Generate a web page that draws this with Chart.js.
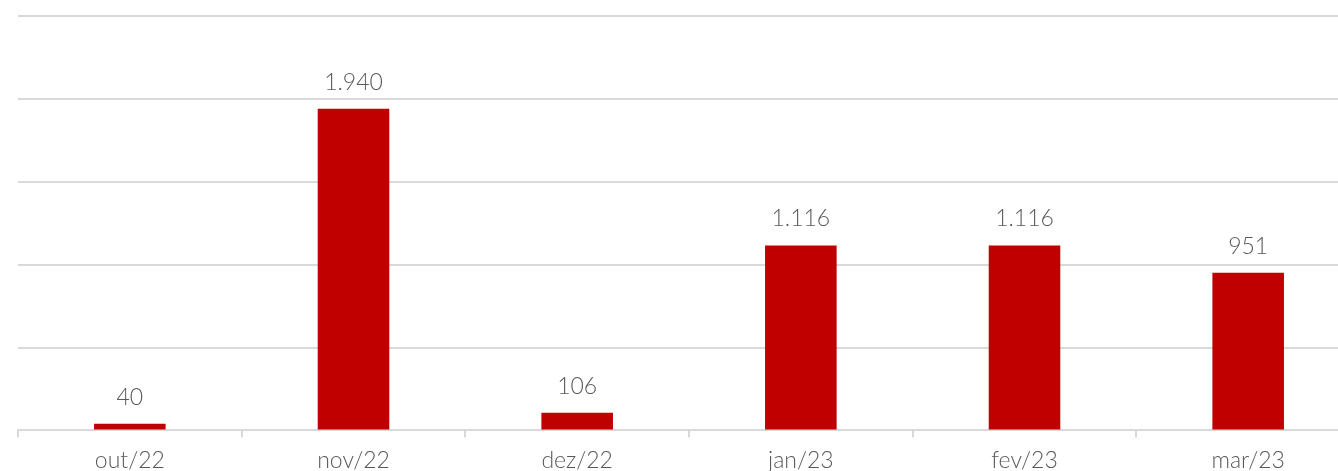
<!DOCTYPE html>
<html>
<head>
<meta charset="utf-8">
<script src="https://cdn.jsdelivr.net/npm/chart.js@4/dist/chart.umd.min.js"></script>
<style>
  html, body { margin: 0; padding: 0; overflow: hidden; background: #fff; }
  #wrap { width: 1360px; height: 490px; }
</style>
</head>
<body>
<div id="wrap"><canvas id="chart"></canvas></div>
<script>
var labels = ['out/22', 'nov/22', 'dez/22', 'jan/23', 'fev/23', 'mar/23'];
var values = [40, 1940, 106, 1116, 1116, 951];

function fmt(v) {
    return v.toString().replace(/\B(?=(\d{3})+(?!\d))/g, '.');
}

var barLabels = {
    id: 'barLabels',
    afterDatasetsDraw: function (chart) {
        var ctx = chart.ctx;
        var meta = chart.getDatasetMeta(0);
        ctx.save();
        ctx.font = '300 23px Lato';
        ctx.fillStyle = '#595959';
        ctx.textAlign = 'center';
        ctx.textBaseline = 'bottom';
        meta.data.forEach(function (bar, i) {
            ctx.fillText(fmt(values[i]), bar.x, bar.y - 15);
        });
        ctx.restore();
    }
};

var ctx = document.getElementById('chart').getContext('2d');
var chart = new Chart(ctx, {
    type: 'bar',
    data: {
        labels: labels,
        datasets: [{
            data: values,
            backgroundColor: '#c00000',
            barPercentage: 0.32,
            categoryPercentage: 1
        }]
    },
    options: {
        responsive: true,
        maintainAspectRatio: false,
        animation: false,
        layout: { padding: { left: 18, right: 0, top: 16, bottom: 7 } },
        plugins: { legend: { display: false }, tooltip: { enabled: false } },
        scales: {
            x: {
                grid: {
                    drawOnChartArea: false,
                    drawTicks: true,
                    tickLength: 7,
                    color: '#d9d9d9',
                    lineWidth: 2
                },
                border: { color: '#d9d9d9', width: 2 },
                ticks: {
                    color: '#595959',
                    font: { family: 'Lato', weight: 300, size: 23 },
                    padding: 9
                }
            },
            y: {
                min: 0,
                max: 2500,
                ticks: { display: false, stepSize: 500 },
                grid: { color: '#d9d9d9', lineWidth: 2, drawTicks: false },
                border: { display: false }
            }
        }
    },
    plugins: [barLabels]
});
</script>
</body>
</html>
